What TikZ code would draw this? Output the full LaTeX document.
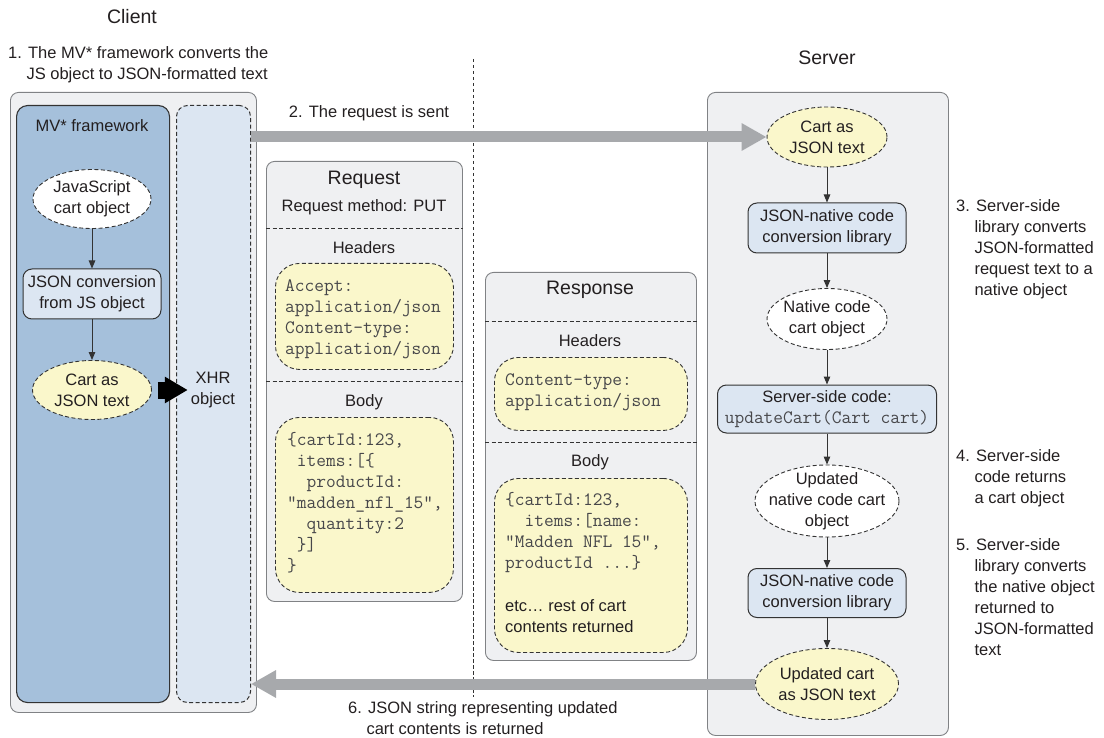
\documentclass[tikz,border=0pt]{standalone}
\usepackage{fontspec}
\setmainfont{Liberation Sans}
\usetikzlibrary{arrows.meta,shapes.geometric,calc}
\definecolor{tc}{HTML}{231F20}
\definecolor{mc}{HTML}{47474A}
\definecolor{pb}{HTML}{808285}
\definecolor{pg}{HTML}{EFF0F2}
\definecolor{dk}{HTML}{333333}
\definecolor{mvc}{HTML}{A5C0DB}
\definecolor{lb}{HTML}{DCE6F2}
\definecolor{yl}{HTML}{FAF7CB}
\definecolor{ga}{HTML}{A7A9AC}
\newcommand\nf{\fontsize{16.5}{21}\selectfont}
\newcommand\tf{\fontsize{19.5}{23}\selectfont}
\newcommand\mf{\fontsize{18.9}{21}\selectfont\ttfamily}
\newcommand\myst{\rule{0pt}{13pt}}
\tikzset{
  txt/.style={text=tc, inner sep=0pt, font=\nf},
  mono/.style={text=mc, inner sep=0pt, font=\mf},
  panel/.style={draw=pb, fill=pg, rounded corners=8pt, line width=0.9pt, inner sep=0pt},
  mvbox/.style={draw=dk, fill=mvc, rounded corners=11pt, line width=1.1pt, inner sep=0pt},
  xhrbox/.style={draw=dk, fill=lb, rounded corners=11pt, line width=1pt, dash pattern=on 4pt off 2.5pt, inner sep=0pt},
  bluebox/.style={draw=dk, fill=lb, rounded corners=9pt, line width=1pt, align=center, inner sep=3pt, text=tc, font=\nf},
  yell/.style={draw=dk, fill=yl, rounded corners=24pt, line width=0.9pt, dash pattern=on 4pt off 2.5pt, inner sep=0pt},
  ellw/.style={ellipse, draw=dk, fill=white, line width=0.9pt, dash pattern=on 4pt off 2.5pt, inner sep=-10pt, align=center, text=tc, font=\nf},
  elly/.style={ellw, fill=yl},
  dline/.style={draw=dk, line width=0.9pt, dash pattern=on 4pt off 2.5pt},
  thinarrow/.style={draw=dk, line width=1pt, -{Triangle[length=8pt,width=6.5pt]}},
  grayarrow/.style={draw=ga, line width=11pt, -{Triangle[length=25pt,width=26pt]}},
  blackarrow/.style={draw=black, line width=17pt, -{Triangle[length=23pt,width=25pt]}},
}
\begin{document}
\begin{tikzpicture}[x=1pt,y=-1pt]
\useasboundingbox (0,0) rectangle (1104,738);

% ---------- Client ----------
\node[txt, font=\tf] (clientt) at (132,17) {Client};
\node[txt, anchor=north west, align=left] (step1) at (8,45)
  {\myst 1. The MV* framework converts the\\\hphantom{1.~}JS object to JSON-formatted text};
\node[panel, anchor=north west, minimum width=246pt, minimum height=620pt] (client) at (10,92) {};
\node[mvbox, anchor=north west, minimum width=153pt, minimum height=597pt] (mv) at (16,105) {};
\node[xhrbox, anchor=north west, minimum width=74pt, minimum height=597pt] (xhr) at (176,105) {};
\node[txt] (mvt) at (92,126) {MV* framework};
\node[ellw, minimum width=118pt, minimum height=59pt] (jsobj) at (92,199) {JavaScript\\cart object};
\node[bluebox, minimum width=138pt, minimum height=50pt] (jsonconv) at (92,294) {JSON conversion\\from JS object};
\node[elly, minimum width=119pt, minimum height=59pt] (cartc) at (92,390) {Cart as\\JSON text};
\node[txt, align=center] (xhrt) at (213,390) {XHR\\object};
\draw[thinarrow] (jsobj) -- (jsonconv);
\draw[thinarrow] (jsonconv) -- (cartc);
\draw[blackarrow] ($(cartc.east)+(6,0)$) -- ($(xhrt.west)+(-3,0)$);

% ---------- divider ----------
\draw[draw=dk, line width=0.9pt, dash pattern=on 3.5pt off 2.5pt] (473,59) -- (473,697);

% ---------- Request ----------
\node[panel, anchor=north west, minimum width=196pt, minimum height=440pt] (req) at (266,161) {};
\node[txt, font=\tf] (reqt) at (364,180) {Request};
\node[txt] (reqm) at (364,207) {Request method: PUT};
\draw[dline] (req.west |- 0,228) -- (req.east |- 0,228);
\node[txt] (reqh) at (364,248) {Headers};
\node[yell, anchor=north west, minimum width=178pt, minimum height=106pt] (reqhb) at (275,263) {};
\node[mono, anchor=north west, align=left] (reqhtext) at (285,278)
  {\myst Accept:\\application/json\\Content-type:\\application/json};
\draw[dline] (req.west |- 0,381) -- (req.east |- 0,381);
\node[txt] (reqb) at (364,402) {Body};
\node[yell, anchor=north west, minimum width=178pt, minimum height=175pt] (reqbb) at (275,417) {};
\node[mono, anchor=north west, align=left] (reqbtext) at (287,432)
  {\myst\{cartId:123,\\\ items:[\{\\\ \ productId:\\"madden\_nfl\_15",\\\ \ quantity:2\\\ \}]\\\}};

% ---------- Response ----------
\node[panel, anchor=north west, minimum width=211pt, minimum height=388pt] (resp) at (485,272) {};
\node[txt, font=\tf] (respt) at (590,290) {Response};
\draw[dline] (resp.west |- 0,321) -- (resp.east |- 0,321);
\node[txt] (resph) at (590,341) {Headers};
\node[yell, anchor=north west, minimum width=193pt, minimum height=73pt] (resphb) at (494,357) {};
\node[mono, anchor=north west, align=left] (resphtext) at (505,372)
  {\myst Content-type:\\application/json};
\draw[dline] (resp.west |- 0,442) -- (resp.east |- 0,442);
\node[txt] (respb) at (590,462) {Body};
\node[yell, anchor=north west, minimum width=193pt, minimum height=174pt] (respbb) at (494,478) {};
\node[mono, anchor=north west, align=left] (respbtext) at (505,492)
  {\myst\{cartId:123,\\\ \ items:[name:\\"Madden NFL 15",\\productId ...\}\\[22pt]{\nf\rmfamily\color{tc}etc… rest of cart}\\{\nf\rmfamily\color{tc}contents returned}};

% ---------- Server ----------
\node[txt, font=\tf] (srvt) at (827,58) {Server};
\node[panel, anchor=north west, minimum width=241pt, minimum height=643pt] (srv) at (707,92) {};
\node[elly, minimum width=120pt, minimum height=60pt] (s1) at (827,137) {Cart as\\JSON text};
\node[bluebox, minimum width=158pt, minimum height=50pt] (s2) at (827,228) {JSON-native code\\conversion library};
\node[ellw, minimum width=120pt, minimum height=61pt] (s3) at (827,319) {Native code\\cart object};
\node[bluebox, minimum width=219pt, minimum height=48pt] (s4) at (827,409) {Server-side code:\\{\mf\color{mc}updateCart(Cart cart)}};
\node[ellw, minimum width=144pt, minimum height=72pt] (s5) at (827,501) {Updated\\native code cart\\object};
\node[bluebox, minimum width=158pt, minimum height=49pt] (s6) at (827,593) {JSON-native code\\conversion library};
\node[elly, minimum width=143pt, minimum height=71pt] (s7) at (827,684) {Updated cart\\as JSON text};
\draw[thinarrow] (s1) -- (s2);
\draw[thinarrow] (s2) -- (s3);
\draw[thinarrow] (s3) -- (s4);
\draw[thinarrow] (s4) -- (s5);
\draw[thinarrow] (s5) -- (s6);
\draw[thinarrow] (s6) -- (s7);

% ---------- big arrows ----------
\draw[grayarrow] (xhr.east |- s1.west) -- (s1.west);
\draw[grayarrow] (s7.west) -- (xhr.east |- s7.west);
\node[txt] (step2) at (369,113) {2. The request is sent};
\node[txt, anchor=north west, align=left] (step6) at (348,700)
  {\myst 6. JSON string representing updated\\\hphantom{6.~}cart contents is returned};

% ---------- annotations ----------
\node[txt, anchor=north west, align=left] (n3) at (956,198)
  {\myst 3. Server-side\\\hphantom{3.~}library converts\\\hphantom{3.~}JSON-formatted\\\hphantom{3.~}request text to a\\\hphantom{3.~}native object};
\node[txt, anchor=north west, align=left] (n4) at (956,448)
  {\myst 4. Server-side\\\hphantom{4.~}code returns\\\hphantom{4.~}a cart object};
\node[txt, anchor=north west, align=left] (n5) at (956,537)
  {\myst 5. Server-side\\\hphantom{5.~}library converts\\\hphantom{5.~}the native object\\\hphantom{5.~}returned to\\\hphantom{5.~}JSON-formatted\\\hphantom{5.~}text};
\end{tikzpicture}
\end{document}
